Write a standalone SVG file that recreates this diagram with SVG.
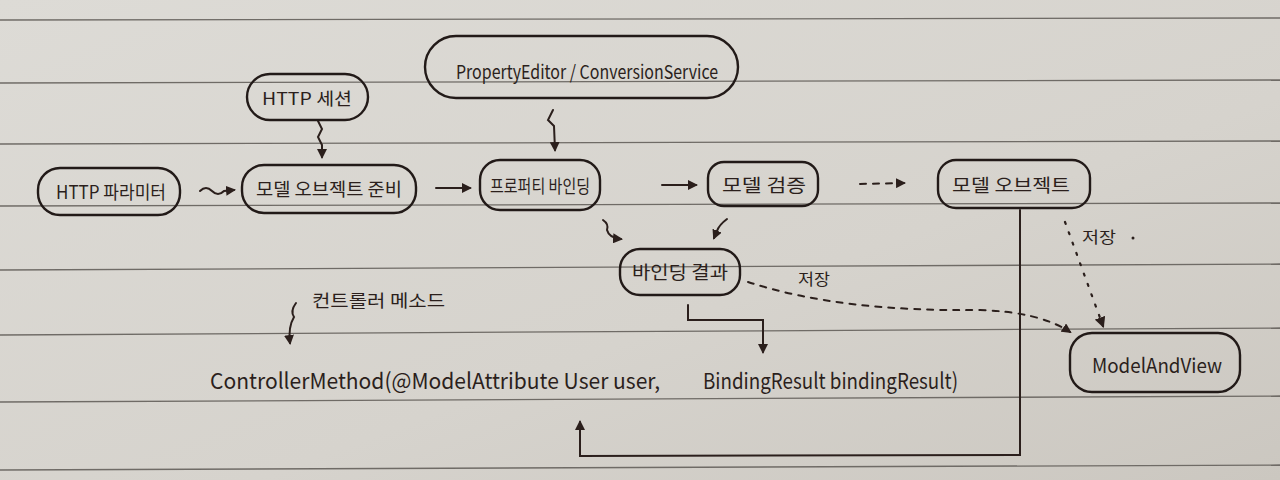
<svg xmlns="http://www.w3.org/2000/svg" width="1280" height="480" viewBox="0 0 1280 480">
<defs>
<linearGradient id="paper" x1="0" y1="0" x2="1" y2="1">
<stop offset="0" stop-color="#dddbd6"/>
<stop offset="0.6" stop-color="#d6d3cd"/>
<stop offset="1" stop-color="#cbc7c0"/>
</linearGradient>
<marker id="ah" viewBox="0 0 10 10" refX="8" refY="5" markerWidth="5" markerHeight="5" orient="auto-start-reverse">
<path d="M0,0 L10,5 L0,10 z" fill="#2b1f1c"/>
</marker>
<style>
.line{stroke:#6f6b66;stroke-width:1.3;fill:none}
.box{fill:none;stroke:#221a18;stroke-width:2.4}
.t{font-family:"Noto Sans CJK KR","Liberation Sans",sans-serif;fill:#2b1f1c;font-weight:400}
.c{fill:none;stroke:#2b1f1c;stroke-width:2;stroke-linecap:round}
.d{fill:none;stroke:#2b1f1c;stroke-width:2;stroke-dasharray:6 7;stroke-linecap:round}
.p{fill:none;stroke:#2b1f1c;stroke-width:2.2;stroke-dasharray:2 9;stroke-linecap:round}
</style>
</defs>
<rect width="1280" height="480" fill="url(#paper)"/>
<g id="ruled-lines">
<path class="line" d="M0,20 L1280,18"/>
<path class="line" d="M0,83 L1280,80"/>
<path class="line" d="M0,144 L1280,141"/>
<path class="line" d="M0,206 L1280,203"/>
<path class="line" d="M0,270 L1280,264"/>
<path class="line" d="M0,335 L1280,328"/>
<path class="line" d="M0,402 L1280,396"/>
<path class="line" d="M0,470 L1280,465"/>
</g>
<g id="connectors">
<path class="c" d="M200,191 q6,-6 12,0 t12,0 L234,190" marker-end="url(#ah)"/>
<path class="c" d="M436,188 L470,188" marker-end="url(#ah)"/>
<path class="c" d="M662,185 L696,185" marker-end="url(#ah)"/>
<path class="d" d="M860,184 L904,183" marker-end="url(#ah)"/>
<path class="c" d="M318,121 l4,8 l-4,8 l4,8 L322,157" marker-end="url(#ah)"/>
<path class="c" d="M553,110 l-5,10 l6,6 L555,150" marker-end="url(#ah)"/>
<path class="c" d="M603,220 q6,4 4,10 q2,8 14,9" marker-end="url(#ah)"/>
<path class="c" d="M727,219 q-8,6 -10,12 L714,238" marker-end="url(#ah)"/>
<path class="c" d="M688,305 L688,320 L763,320 L763,352" marker-end="url(#ah)"/>
<path class="d" d="M748,282 Q840,312 980,310 Q1040,312 1070,332" marker-end="url(#ah)"/>
<path class="p" d="M1065,222 L1103,326" marker-end="url(#ah)"/>
<path class="c" d="M1020,210 L1020,455 L580,456 L580,422" marker-end="url(#ah)"/>
<path class="c" d="M296,303 q-6,8 -2,14 q-6,10 -4,26" marker-end="url(#ah)"/>
</g>
<g id="http-params">
<rect class="box" x="38" y="168" width="142" height="47" rx="22"/>
<text class="t" x="56" y="199" font-size="18" textLength="110" lengthAdjust="spacingAndGlyphs">HTTP 파라미터</text>
</g>
<g id="prepare-model">
<rect class="box" x="242" y="165" width="174" height="48" rx="22"/>
<text class="t" x="256" y="196" font-size="18" textLength="146" lengthAdjust="spacingAndGlyphs">모델 오브젝트 준비</text>
</g>
<g id="property-binding">
<rect class="box" x="480" y="160" width="120" height="50" rx="20"/>
<text class="t" x="490" y="193" font-size="18" textLength="100" lengthAdjust="spacingAndGlyphs">프로퍼티 바인딩</text>
</g>
<g id="model-validation">
<rect class="box" x="708" y="162" width="110" height="44" rx="16"/>
<text class="t" x="722" y="192" font-size="18" textLength="84" lengthAdjust="spacingAndGlyphs">모델 검증</text>
</g>
<g id="model-object">
<rect class="box" x="938" y="160" width="152" height="48" rx="18"/>
<text class="t" x="952" y="192" font-size="18" textLength="118" lengthAdjust="spacingAndGlyphs">모델 오브젝트</text>
</g>
<g id="http-session">
<rect class="box" x="247" y="74" width="121" height="46" rx="23"/>
<text class="t" x="262" y="105" font-size="17" textLength="90" lengthAdjust="spacingAndGlyphs">HTTP 세션</text>
</g>
<g id="property-editor">
<rect class="box" x="425" y="36" width="313" height="62" rx="31"/>
<text class="t" x="456" y="79" font-size="19" textLength="262" lengthAdjust="spacingAndGlyphs">PropertyEditor / ConversionService</text>
</g>
<g id="binding-result">
<rect class="box" x="620" y="249" width="120" height="46" rx="20"/>
<text class="t" x="632" y="279" font-size="18" textLength="96" lengthAdjust="spacingAndGlyphs">바인딩 결과</text>
</g>
<g id="model-and-view">
<rect class="box" x="1070" y="333" width="170" height="59" rx="22"/>
<text class="t" x="1092" y="373" font-size="20" textLength="130" lengthAdjust="spacingAndGlyphs">ModelAndView</text>
</g>
<g id="labels">
<text class="t" x="798" y="285" font-size="16" textLength="32" lengthAdjust="spacingAndGlyphs">저장</text>
<text class="t" x="1082" y="243" font-size="16" textLength="34" lengthAdjust="spacingAndGlyphs">저장</text>
<circle cx="1133" cy="238" r="1.5" fill="#2b1f1c"/>
<text class="t" x="312" y="307" font-size="17" textLength="133" lengthAdjust="spacingAndGlyphs">컨트롤러 메소드</text>
<text class="t" x="210" y="389" font-size="22" textLength="450" lengthAdjust="spacingAndGlyphs">ControllerMethod(@ModelAttribute User user,</text>
<text class="t" x="703" y="389" font-size="22" textLength="255" lengthAdjust="spacingAndGlyphs">BindingResult bindingResult)</text>
</g>
</svg>
